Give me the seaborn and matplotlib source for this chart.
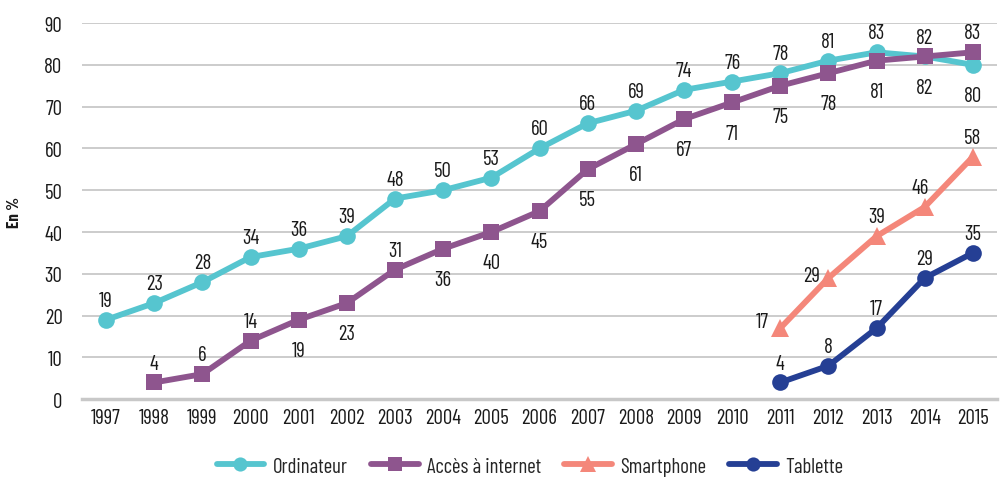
import matplotlib
matplotlib.use("Agg")
import matplotlib.pyplot as plt
import seaborn as sns
import pandas as pd
import numpy as np

years = [str(y) for y in range(1997, 2016)]
ordinateur = [19, 23, 28, 34, 36, 39, 48, 50, 53, 60, 66, 69, 74, 76, 78, 81, 83, 82, 80]
internet = [None, 4, 6, 14, 19, 23, 31, 36, 40, 45, 55, 61, 67, 71, 75, 78, 81, 82, 83]
smartphone = [None] * 14 + [17, 29, 39, 46, 58]
tablette = [None] * 14 + [4, 8, 17, 29, 35]

series_names = ["Ordinateur", "Accès à internet", "Smartphone", "Tablette"]
colors = ["#56C5CF", "#8E558E", "#F4877A", "#253F94"]
markers = ["o", "s", "^", "o"]

sns.set_theme(style="white")
plt.rcParams["font.family"] = ["Barlow Condensed", "DejaVu Sans"]

rows = []
for name, vals in zip(series_names, [ordinateur, internet, smartphone, tablette]):
    for i, v in enumerate(vals):
        if v is not None:
            rows.append({"pos": i, "year": years[i], "value": v, "serie": name})
df = pd.DataFrame(rows)

fig = plt.figure(figsize=(10, 4.81), dpi=100)
ax = fig.add_axes([0.082, 0.168, 0.915, 0.782])

for name, col, mk in zip(series_names, colors, markers):
    sub = df[df["serie"] == name]
    sns.lineplot(data=sub, x="pos", y="value", ax=ax, color=col, marker=mk,
                 markersize=12 if mk != "^" else 13, markeredgewidth=0, linewidth=4.2,
                 label=name, zorder=3)

def place(name, i):
    if name == "Ordinateur":
        return (0, -22) if i in (17, 18) else (0, 14)
    if name == "Accès à internet":
        return (0, 14) if i in (1, 2, 3, 6, 17, 18) else (0, -22)
    if name == "Smartphone":
        if i == 14:
            return (-13, 5)
        if i == 15:
            return (-12, 2)
        if i == 17:
            return (-3, 14)
        return (0, 14)
    return (0, 14)

for name, vals in zip(series_names, [ordinateur, internet, smartphone, tablette]):
    for i, v in enumerate(vals):
        if v is None:
            continue
        dx, dy = place(name, i)
        ax.annotate(str(v), (i, v), xytext=(dx, dy), textcoords="offset points",
                    ha="center", va="center", fontsize=15, color="#1a1a1a", zorder=4)

ax.set_xlim(-0.5, 18.5)
ax.set_ylim(0, 90)
ax.set_yticks(range(0, 91, 10))
ax.set_xticks(range(len(years)))
ax.set_xticklabels(years)
ax.set_xticks(np.arange(-0.5, 18.6, 1), minor=True)
ax.tick_params(axis="x", which="major", length=0, labelsize=15, pad=6, colors="#1a1a1a")
ax.tick_params(axis="x", which="minor", length=10, width=2.5, color="#c8c8c8", direction="out")
ax.tick_params(axis="y", length=0, labelsize=15, pad=14, colors="#1a1a1a")
ax.yaxis.grid(True, color="#c8c8c8", linewidth=1.3)
ax.set_axisbelow(True)
for s in ["left", "right", "top"]:
    ax.spines[s].set_visible(False)
ax.spines["bottom"].set_color("#c8c8c8")
ax.spines["bottom"].set_linewidth(2.5)
ax.set_xlabel("")
ax.set_ylabel("En %", fontsize=12, fontweight="bold", labelpad=16, color="#1a1a1a")

ax.legend(loc="center", bbox_to_anchor=(0.53, 0.029), bbox_transform=fig.transFigure,
          ncol=4, frameon=False, fontsize=15, handlelength=2.3, columnspacing=1.1,
          handletextpad=0.4, borderaxespad=0, markerscale=0.85)

fig.savefig("out.png", dpi=100)
